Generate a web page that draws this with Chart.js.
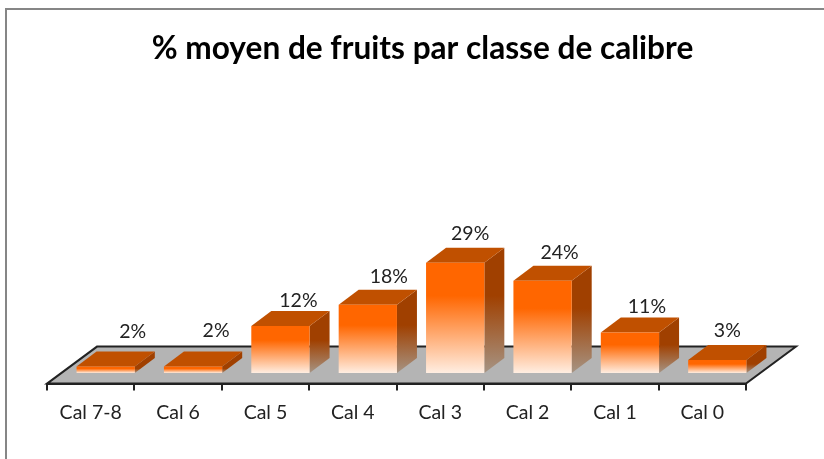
<!DOCTYPE html>
<html>
<head>
<meta charset="utf-8">
<script src="https://cdn.jsdelivr.net/npm/chart.js@4"></script>
<style>
  html, body { margin: 0; background: #fff; overflow: hidden; }
  canvas { display: block; }
</style>
</head>
<body>
<canvas id="myChart" width="824" height="459"></canvas>
<script>
const categories = ['Cal 7-8', 'Cal 6', 'Cal 5', 'Cal 4', 'Cal 3', 'Cal 2', 'Cal 1', 'Cal 0'];
const meanPercent = [1.7, 1.7, 12.3, 17.9, 28.9, 24.2, 10.6, 3.4];

// the labels were moved by hand in the original, offset from the bar top
const labelShiftX = [27, 23, 18, 21, 15, 17, 17, 10];
const labelShiftY = [-35, -36, -25, -28, -29, -28, -26, -29];

// 3d look: bars sit partway back on the floor
const floorDepth = { x: 50, y: -37 };
const barOffset = { x: 15, y: -10.5 };
const barDepth = { x: 20, y: -15 };

const ctx = document.getElementById('myChart').getContext('2d');

function fadeGradient(context) {
    const y = context.chart.scales.y;
    // also called once per dataset, with no bar index and no layout yet
    if (context.dataIndex === undefined || !y) return '#ff6600';
    const top = y.getPixelForValue(meanPercent[context.dataIndex]);
    const bottom = y.getPixelForValue(0);
    if (!Number.isFinite(top) || !Number.isFinite(bottom)) return '#ff6600';
    const g = ctx.createLinearGradient(0, top, 0, bottom);
    g.addColorStop(0, '#ff6600');
    g.addColorStop(0.3, '#ff6600');
    g.addColorStop(1, '#ffeee2');
    return g;
}

function fillPoly(c, pts, fill) {
    c.beginPath();
    pts.forEach((p, i) => i ? c.lineTo(p[0], p[1]) : c.moveTo(p[0], p[1]));
    c.closePath();
    c.fillStyle = fill;
    c.fill();
}

const depthPlugin = {
    id: 'depth',
    afterLayout(ch) {
        // title is centred on the whole frame, not on the plot
        ch.titleBlock.left += 26;
        ch.titleBlock.right += 26;
    },
    beforeDraw(ch) {
        // chart frame, only top and left are in the crop
        const c = ch.ctx;
        c.save();
        c.strokeStyle = '#868686';
        c.lineWidth = 2;
        c.beginPath();
        c.moveTo(6, 459);
        c.lineTo(6, 9);
        c.lineTo(824, 9);
        c.stroke();
        c.restore();
    },
    beforeDatasetsDraw(ch) {
        const c = ch.ctx;
        const { left, right, bottom } = ch.chartArea;
        const floor = [
            [left, bottom],
            [left + floorDepth.x, bottom + floorDepth.y],
            [right + floorDepth.x, bottom + floorDepth.y],
            [right, bottom]
        ];
        c.save();
        fillPoly(c, floor, '#b4b4b4');
        c.strokeStyle = '#222';
        c.lineWidth = 2;
        c.beginPath();
        floor.forEach((p, i) => i ? c.lineTo(p[0], p[1]) : c.moveTo(p[0], p[1]));
        c.closePath();
        c.stroke();

        // everything from here on is moved back onto the floor
        c.translate(barOffset.x, barOffset.y);
        const base = ch.scales.y.getPixelForValue(0);
        ch.getDatasetMeta(0).data.forEach((bar) => {
            const x0 = bar.x - bar.width / 2;
            const x1 = bar.x + bar.width / 2;
            const dx = barDepth.x, dy = barDepth.y;
            const side = c.createLinearGradient(0, bar.y, 0, base);
            side.addColorStop(0, '#a04000');
            side.addColorStop(0.3, '#a04000');
            side.addColorStop(1, '#a69484');
            fillPoly(c, [[x1, bar.y], [x1 + dx, bar.y + dy], [x1 + dx, base + dy], [x1, base]], side);
            fillPoly(c, [[x0, bar.y], [x0 + dx, bar.y + dy], [x1 + dx, bar.y + dy], [x1, bar.y]], '#c05000');
        });
    },
    afterDatasetsDraw(ch) {
        const c = ch.ctx;
        c.restore();
        c.save();
        c.font = '19.5px Lato';
        c.fillStyle = '#222';
        c.textAlign = 'center';
        c.textBaseline = 'middle';
        ch.getDatasetMeta(0).data.forEach((bar, i) => {
            c.fillText(Math.round(meanPercent[i]) + '%',
                bar.x + barOffset.x + labelShiftX[i],
                bar.y + barOffset.y + labelShiftY[i]);
        });
        c.restore();
    }
};

var chart = new Chart(ctx, {
    type: 'bar',
    plugins: [depthPlugin],
    data: {
        labels: categories,
        datasets: [{
            data: meanPercent,
            barPercentage: 0.667,
            categoryPercentage: 1,
            borderWidth: 0,
            backgroundColor: fadeGradient
        }]
    },
    options: {
        responsive: false,
        animation: false,
        layout: { padding: { left: 47, right: 78, top: 0, bottom: 25 } },
        plugins: {
            legend: { display: false },
            tooltip: { enabled: false },
            title: {
                display: true,
                text: '% moyen de fruits par classe de calibre',
                color: '#000',
                font: { family: 'Lato', size: 31.6, weight: 'bold' },
                padding: { top: 30, bottom: 10 }
            }
        },
        scales: {
            x: {
                grid: { drawOnChartArea: false, color: '#222', lineWidth: 2, tickLength: 7 },
                border: { color: '#222', width: 2 },
                ticks: { color: '#222', padding: 10, maxRotation: 0, font: { family: 'Lato', size: 19.5 } }
            },
            y: { display: false, min: 0, max: 80 }
        }
    }
});
</script>
</body>
</html>
